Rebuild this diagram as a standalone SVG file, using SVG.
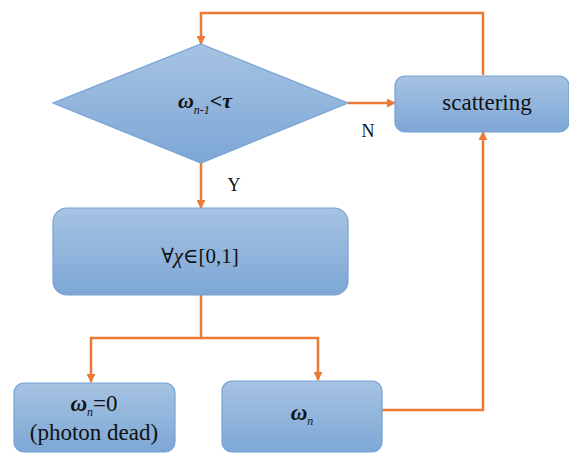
<svg xmlns="http://www.w3.org/2000/svg" width="569" height="454" viewBox="0 0 569 454">
<defs>
<linearGradient id="g" x1="0" y1="0" x2="0" y2="1">
<stop offset="0" stop-color="#a6c3e2"/>
<stop offset="1" stop-color="#7da7d6"/>
</linearGradient>
<marker id="ah" viewBox="0 0 10 10" refX="9" refY="5" markerWidth="9" markerHeight="9" markerUnits="userSpaceOnUse" orient="auto">
<path d="M0,0 L10,5 L0,10 z" fill="#ec7a34"/>
</marker>
</defs>
<style>
.n{fill:url(#g);stroke:#74a2d4;stroke-width:1.2}
.c{fill:none;stroke:#ec7a34;stroke-width:2.5;marker-end:url(#ah)}
text{font-family:"Liberation Serif","DejaVu Serif",serif;fill:#111;text-anchor:middle}
.b{font-weight:bold;font-style:italic}
.s{font-size:12px;font-style:italic}
</style>
<g id="connectors">
<path class="c" d="M483,75 V13 H201 V44"/>
<path class="c" d="M348,103 H395"/>
<path class="c" d="M201,163 V208"/>
<path class="c" d="M201,295 V338 H91 V382"/>
<path class="c" d="M201,338 H318 V380"/>
<path class="c" d="M382,410 H483 V132"/>
<text x="368" y="137" font-size="18">N</text>
<text x="234" y="191" font-size="18">Y</text>
</g>
<g id="decision">
<polygon class="n" points="201,44 348,103 201,163 53,103"/>
<text x="205" y="108" font-size="22"><tspan class="b">ω</tspan><tspan class="s" dy="6">n-1</tspan><tspan dy="-6" font-weight="bold">&lt;</tspan><tspan class="b">τ</tspan></text>
</g>
<g id="scattering">
<rect class="n" x="395" y="76" width="174" height="56" rx="10"/>
<text x="487" y="110" font-size="23">scattering</text>
</g>
<g id="random">
<rect class="n" x="53" y="208" width="295" height="87" rx="14"/>
<text x="200" y="263" font-size="21">∀<tspan font-style="italic">χ</tspan>∈[0,1]</text>
</g>
<g id="dead">
<rect class="n" x="14" y="383" width="161" height="69" rx="10"/>
<text x="94" y="411" font-size="23"><tspan class="b">ω</tspan><tspan class="s" dy="5">n</tspan><tspan dy="-5">=0</tspan></text>
<text x="94" y="440" font-size="23">(photon dead)</text>
</g>
<g id="weight">
<rect class="n" x="222" y="381" width="160" height="71" rx="10"/>
<text x="302" y="420" font-size="23"><tspan class="b">ω</tspan><tspan class="s" dy="5">n</tspan></text>
</g>
</svg>
